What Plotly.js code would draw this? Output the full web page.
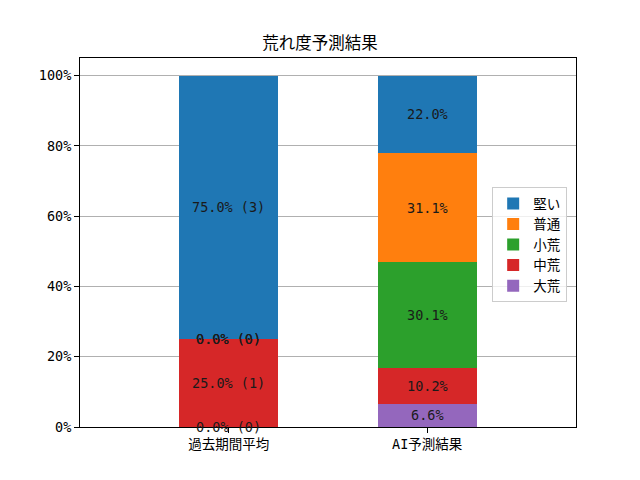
<!DOCTYPE html>
<html>
<head>
<meta charset="utf-8">
<script src="https://cdn.plot.ly/plotly-3.0.1.min.js"></script>
<style>
  body { margin: 0; }
  #chart { width: 640px; height: 480px; }
</style>
</head>
<body>
<div id="chart"></div>
<script>
// data (bottom of the stack first)
const categories = ['過去期間平均', 'AI予測結果']
const seriesNames = ['大荒', '中荒', '小荒', '普通', '堅い']
const seriesColors = ['#9467bd', '#d62728', '#2ca02c', '#ff7f0e', '#1f77b4']
const pastPercent = [0.0, 25.0, 0.0, 0.0, 75.0]
const pastCount = [0, 1, 0, 0, 3]
const aiPercent = [6.6, 10.2, 30.1, 31.1, 22.0]
const yTicks = [0, 20, 40, 60, 80, 100]
const yTickLabels = ['0%', '20%', '40%', '60%', '80%', '100%']

// latin glyphs in a fixed-width face, CJK from Noto
const font = 'DejaVu Sans Mono, Noto Sans CJK JP, sans-serif'
const fs = 13.5

let traces = seriesNames.map((name, i) => ({
  type: 'bar',
  name: name,
  x: categories,
  y: [pastPercent[i], aiPercent[i]],
  width: 0.5,
  marker: { color: seriesColors[i], line: { width: 0 } },
  hoverinfo: 'skip'
}))

// labels in the middle of each segment
let annotations = []
let base1 = 0, base2 = 0
seriesNames.forEach((name, i) => {
  annotations.push({
    x: categories[0], y: base1 + pastPercent[i] / 2,
    text: pastPercent[i].toFixed(1) + '% (' + pastCount[i] + ')',
    showarrow: false, font: { family: font, size: fs, color: '#1a1a1a' }
  })
  annotations.push({
    x: categories[1], y: base2 + aiPercent[i] / 2,
    text: aiPercent[i].toFixed(1) + '%',
    showarrow: false, font: { family: font, size: fs, color: '#1a1a1a' }
  })
  base1 += pastPercent[i]
  base2 += aiPercent[i]
})

const layout = {
  width: 640,
  height: 480,
  margin: { l: 80, r: 64, t: 58, b: 53 },
  paper_bgcolor: '#fff',
  plot_bgcolor: '#fff',
  barmode: 'stack',
  font: { family: font, size: fs, color: '#000' },
  title: {
    text: '荒れ度予測結果',
    font: { family: font, size: 16.5, color: '#000' },
    x: 0.5, xanchor: 'center', y: 0.91, yanchor: 'middle'
  },
  xaxis: {
    type: 'category',
    range: [-0.75, 1.75],
    showgrid: false,
    showline: true, linecolor: '#000', linewidth: 1, mirror: true,
    ticks: 'outside', ticklen: 5, tickcolor: '#000',
    tickfont: { family: font, size: fs }
  },
  yaxis: {
    range: [0, 105],
    tickvals: yTicks,
    ticktext: yTickLabels,
    showgrid: true, gridcolor: '#b0b0b0', gridwidth: 1,
    zeroline: false,
    showline: true, linecolor: '#000', linewidth: 1, mirror: true,
    ticks: 'outside', ticklen: 5, tickcolor: '#000',
    tickfont: { family: font, size: fs }
  },
  legend: {
    x: 0.831, xanchor: 'left',
    y: 0.65, yanchor: 'top',
    traceorder: 'reversed',
    bgcolor: 'rgba(255,255,255,0.8)',
    bordercolor: '#cccccc', borderwidth: 1,
    font: { family: font, size: fs },
    itemwidth: 30
  },
  annotations: annotations,
  showlegend: true
}

Plotly.newPlot('chart', traces, layout, { displayModeBar: false, staticPlot: true })
</script>
</body>
</html>
